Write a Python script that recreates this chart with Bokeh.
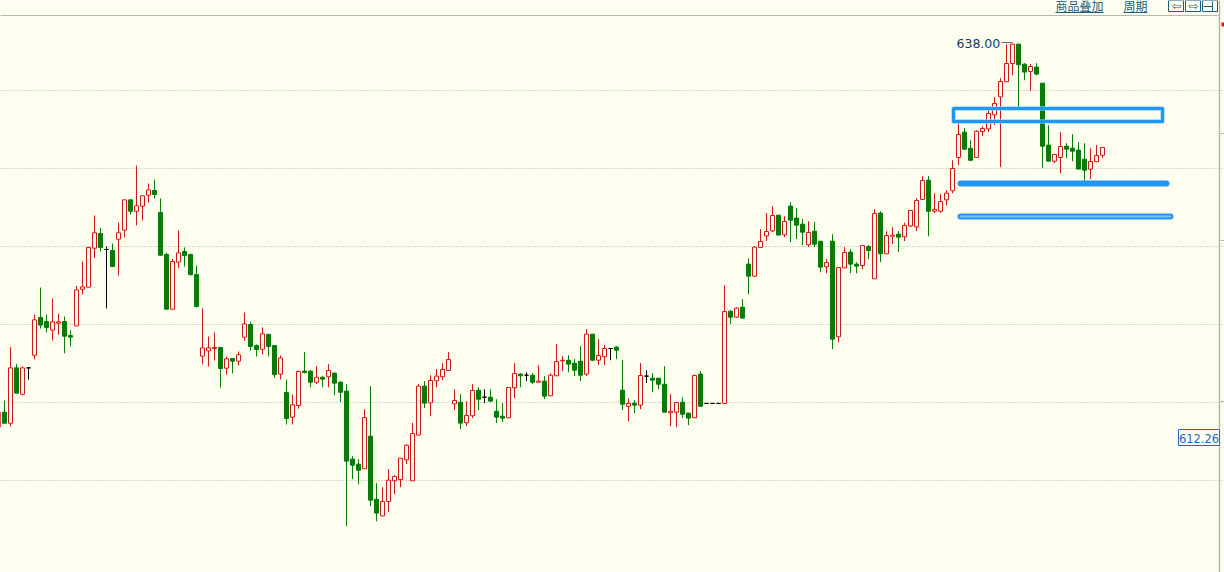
from bokeh.plotting import figure
from bokeh.embed import file_html
from bokeh.resources import INLINE
from bokeh.models import Range1d, FixedTicker, ColumnDataSource
from bokeh.core.properties import value
import numpy as np

# price series (one row per ten sessions)
opens = [
 613.42,614.38,613.67,617.22,615.53,617.22,618.03,620.45,620.19,619.64,
 620.09,620.19,619.29,619.91,622.26,622.39,624.89,625.83,624.81,624.74,
 625.47,626.05,627.99,627.26,627.59,628.29,628.59,627.18,624.49,620.98,
 624.00,624.68,624.49,623.20,617.97,618.31,618.46,618.53,617.20,617.82,
 617.65,619.19,620.00,618.65,618.42,619.36,618.65,616.82,615.64,614.06,
 614.81,617.01,617.01,616.30,616.62,616.65,616.88,616.30,615.73,611.37,
 611.05,610.75,612.84,608.80,607.73,608.65,609.98,610.06,611.32,609.98,
 612.91,616.05,614.98,616.39,616.65,617.05,614.91,615.02,613.70,614.15,
 615.79,615.34,615.34,614.44,614.12,614.02,615.94,616.82,616.75,616.75,
 616.30,616.37,615.43,616.71,617.67,617.71,617.52,617.65,616.82,619.38,
 617.71,617.93,618.46,618.55,615.79,614.76,614.96,614.83,616.69,616.56,
 616.56,616.17,614.34,614.38,615.02,614.32,614.02,616.82,614.94,614.94,
 614.94,614.94,620.85,620.47,621.11,623.87,623.10,624.94,625.68,626.00,
 627.01,625.75,627.59,626.82,626.43,625.11,625.98,625.34,623.70,625.34,
 619.21,623.63,624.64,623.87,623.78,625.00,622.93,627.14,624.53,625.66,
 625.79,625.62,626.32,626.26,628.01,629.25,627.26,627.26,627.99,628.57,
 630.71,632.33,631.30,630.71,632.37,632.54,633.44,634.59,635.56,636.73,
 637.97,636.69,636.22,636.50,635.47,631.50,630.47,630.71,631.43,631.30,
 631.18,630.60,629.96,630.43,630.85,
]
highs = [
 614.38,615.13,618.55,617.48,617.31,617.26,620.64,622.37,620.64,621.67,
 620.70,620.51,619.62,622.48,624.04,624.94,626.99,626.20,625.00,625.19,
 626.54,627.99,627.99,630.19,628.27,629.04,629.29,628.08,624.59,624.21,
 626.03,624.94,624.53,623.78,621.03,619.23,619.49,618.53,617.95,617.82,
 618.27,620.77,620.19,618.72,619.81,619.42,618.65,618.01,616.47,615.51,
 617.05,618.23,617.07,617.33,616.69,617.46,616.94,616.37,616.18,611.56,
 611.35,614.57,616.05,609.83,609.57,610.73,610.34,611.43,612.33,613.68,
 616.18,616.37,616.75,617.14,617.52,618.23,615.85,615.53,615.09,616.18,
 615.98,615.85,615.85,615.21,614.96,615.98,617.52,616.88,616.94,616.88,
 617.39,616.69,616.88,618.74,617.97,618.03,617.78,618.61,619.70,619.38,
 619.06,618.68,618.46,618.61,617.71,615.26,615.15,617.52,617.07,616.88,
 616.56,617.33,615.53,615.02,615.34,614.32,616.79,617.01,614.94,614.94,
 614.94,622.52,620.92,621.11,621.62,624.25,625.02,626.11,627.14,627.59,
 627.01,626.94,627.84,627.46,626.75,626.62,626.56,625.34,624.19,625.79,
 623.65,624.96,624.83,624.00,625.09,625.09,627.39,627.26,625.98,626.24,
 625.98,626.54,627.33,628.10,629.51,629.51,628.42,628.35,628.61,630.53,
 632.97,632.59,631.82,632.46,632.71,633.74,634.57,635.79,637.97,638.00,
 638.00,636.75,636.69,636.75,635.47,632.78,630.92,632.33,631.62,632.20,
 631.69,631.62,631.30,631.50,631.37,
]
lows = [
 613.03,613.67,613.46,615.60,615.45,616.47,617.76,619.74,619.49,618.97,
 619.34,618.16,618.59,619.91,621.92,622.39,624.25,624.68,621.03,623.72,
 623.14,625.58,627.05,626.35,626.67,627.82,628.08,624.44,620.98,620.98,
 623.61,623.72,623.14,621.09,617.44,617.31,617.69,615.96,616.79,616.86,
 617.37,618.97,618.33,617.95,618.08,617.95,616.60,616.47,613.59,613.59,
 614.61,616.86,615.98,616.18,615.98,615.98,615.47,615.02,607.07,610.09,
 609.76,610.75,608.35,607.39,607.73,607.97,609.12,609.57,611.05,609.98,
 612.91,614.64,614.12,615.98,616.43,617.01,614.51,613.29,613.48,614.00,
 614.51,614.96,615.02,613.68,613.74,614.02,615.28,615.98,616.37,616.18,
 616.30,615.21,615.43,616.71,617.01,616.94,616.69,616.37,616.69,617.65,
 617.39,617.39,617.71,617.78,614.51,613.80,614.32,614.57,616.24,615.66,
 615.85,614.38,613.48,613.42,614.00,613.55,614.02,614.76,614.94,614.94,
 614.94,614.94,620.02,620.41,620.41,621.94,623.03,624.94,625.34,625.92,
 625.73,625.60,625.28,625.47,625.09,624.96,624.96,623.35,623.29,618.42,
 618.87,623.63,623.29,623.29,623.55,624.19,622.93,624.00,624.53,625.15,
 624.64,625.34,626.24,625.98,627.99,625.66,627.14,627.14,627.65,628.42,
 630.21,631.18,630.47,630.71,632.07,632.33,632.78,630.09,635.56,635.98,
 633.93,635.66,634.96,635.98,630.02,630.47,630.34,629.70,630.66,630.47,
 629.96,629.19,629.32,630.43,630.66,
]
closes = [
 614.38,613.67,617.22,615.60,617.22,617.22,620.30,619.96,619.81,620.17,
 620.17,619.25,619.19,622.22,622.41,624.94,625.88,624.94,624.81,623.72,
 625.88,627.99,627.26,627.61,628.25,628.63,628.33,624.44,620.98,624.04,
 624.59,624.42,623.20,621.15,618.50,618.50,618.53,617.18,617.80,617.65,
 618.06,620.04,618.59,618.40,619.40,618.59,616.79,617.86,613.97,614.85,
 616.99,616.92,616.30,616.62,616.50,617.05,616.24,615.66,611.24,610.98,
 610.66,614.04,608.74,607.91,608.65,610.02,610.26,611.43,612.26,613.01,
 616.05,614.96,616.41,616.69,617.12,617.76,615.13,613.68,614.17,615.77,
 615.21,615.34,615.09,614.06,614.00,615.96,616.86,616.71,616.75,616.30,
 616.37,615.41,616.75,617.63,617.71,617.46,617.07,616.75,619.38,617.71,
 618.01,618.46,618.46,618.35,614.89,614.94,614.83,616.73,616.69,616.43,
 616.17,614.38,614.44,615.00,614.25,614.00,616.73,614.76,614.94,614.94,
 614.94,620.83,620.47,621.05,620.41,623.10,624.96,625.32,625.96,626.99,
 625.73,626.60,626.69,626.37,625.92,625.90,625.15,623.68,623.97,619.06,
 623.65,624.62,623.87,623.74,625.06,624.74,627.12,624.53,625.70,625.73,
 625.60,626.35,627.31,627.95,629.23,627.26,627.37,627.88,628.42,630.00,
 632.18,631.24,630.53,632.39,632.56,633.53,634.17,635.58,636.73,637.97,
 636.65,636.18,636.54,636.05,631.43,630.47,630.90,631.41,631.24,631.11,
 629.96,629.89,630.45,630.83,631.35,
]
grid_levels = [610, 615, 620, 625, 630, 635]
peak_label = "638.00"
last_label = "612.26"
menu_labels = ["商品叠加", "周期"]

BG = "#FFFFF0"; RED = "#CC1A1A"; GREEN = "#0A7A0A"; FRAME = "#B8B8AC"; LINK = "#1A5F7A"; BLUE = "#2196F3"
W, H = 1224, 572
FIRST = -2.0; STEP = 6.0     # px of first candle, px per candle
Y630 = 168.0; PPU = 15.6     # px of 630, px per price unit

def sx(px): return (px - FIRST) / STEP
def sy(py): return 630 + (Y630 - py) / PPU
def vx(seq): return [sx(v) for v in seq]
def vy(seq): return [sy(v) for v in seq]

p = figure(width=W, height=H, output_backend="svg", toolbar_location=None,
           x_range=Range1d(sx(0), sx(W)), y_range=Range1d(sy(H), sy(0)),
           background_fill_color=BG, border_fill_color=BG, min_border=0, outline_line_color=None)
p.xaxis.visible = False; p.yaxis.visible = False
p.xgrid.visible = False
p.ygrid.ticker = FixedTicker(ticks=grid_levels)
p.ygrid.grid_line_color = "#AFAFA5"; p.ygrid.grid_line_dash = "1 2"; p.ygrid.grid_line_width = 1
p.ygrid.bounds = (sx(0), sx(1217))

n = len(opens); xs = np.arange(n)
o = np.array(opens); c = np.array(closes); hi = np.array(highs); lo = np.array(lows)
col = np.where(c > o, RED, np.where(c < o, GREEN, "#000000"))
fill = np.where(c > o, BG, np.where(c < o, GREEN, "#000000"))
src = ColumnDataSource(dict(x=xs, o=o, c=c, hi=hi, lo=lo, col=col, fill=fill,
                            top=np.maximum(o, c), bot=np.minimum(o, c)))
p.segment("x", "hi", "x", "lo", source=src, line_color="col", line_width=1)
p.vbar("x", width=4/STEP, top="top", bottom="bot", source=src, fill_color="fill", line_color="col", line_width=1)

# hand-drawn annotation shapes
def stroke(xp, yp, width, color=BLUE, alpha=1.0):
    p.line(vx(xp), vy(yp), line_color=color, line_width=width, line_join="round", line_cap="round", alpha=alpha)
stroke([953, 1162, 1162, 953, 953], [108, 108, 121, 121, 108], 5, "#90CAF9", 0.6)
stroke([953, 1162, 1162, 953, 953], [108, 108, 121, 121, 108], 3)
stroke([960, 1166], [183, 183], 6)
stroke([960, 1170], [216, 216], 6)
stroke([960, 1170], [216, 216], 2, "#7CC4F8")

# frame
p.line(vx([0, 1219]), vy([15, 15]), line_color=FRAME, line_width=1)
p.line(vx([1219, 1219]), vy([0, H]), line_color=FRAME, line_width=1.5)
for ty in (133, 240, 401):
    p.line(vx([1220, 1224]), vy([ty, ty]), line_color=FRAME, line_width=1)
p.quad(left=[sx(1221)], right=[sx(1225)], top=[sy(22)], bottom=[sy(26)], fill_color="#DD1111", line_color=None)

# peak label and leader
p.text([sx(956)], [sy(43)], text=[peak_label], text_font=value("DejaVu Sans"), text_font_size="12.5px",
       text_color="#1A3A5C", text_baseline="middle", text_align="left")
p.line(vx([1001, 1012]), vy([42, 42]), line_color="#707070", line_width=1)

# last-price tag
p.quad(left=[sx(1178)], right=[sx(1219)], top=[sy(429)], bottom=[sy(445)], fill_color=BG, line_color="#2A66C4", line_width=1)
p.text([sx(1198.5)], [sy(437.5)], text=[last_label], text_font=value("DejaVu Sans"), text_font_size="11.5px",
       text_color="#2A66C4", text_align="center", text_baseline="middle")

# top menu
for label, x0, x1 in zip(menu_labels, (1055, 1123), (1103, 1147)):
    p.text([sx(x0)], [sy(6.5)], text=[label], text_font=value("Liberation Sans, Noto Sans CJK SC"), text_font_size="12px",
           text_color=LINK, text_align="left", text_baseline="alphabetic")
    p.line(vx([x0, x1]), vy([12, 12]), line_color=LINK, line_width=1)
for x0, x1 in ((1168, 1183), (1185, 1200), (1202, 1217)):
    p.line(vx([x0, x1, x1, x0, x0]), vy([0, 0, 11, 11, 0]), line_color=LINK, line_width=1)
p.text([sx(1176), sx(1193)], [sy(5.5), sy(5.5)], text=["⇦", "⇨"], text_font=value("DejaVu Sans"), text_font_size="12px",
       text_color=LINK, text_align="center", text_baseline="middle")
p.line(vx([1203, 1212]), vy([6, 6]), line_color=LINK, line_width=1)
p.line(vx([1212, 1212]), vy([1, 11]), line_color=LINK, line_width=1)

open("out.html", "w").write(file_html(p, INLINE))
